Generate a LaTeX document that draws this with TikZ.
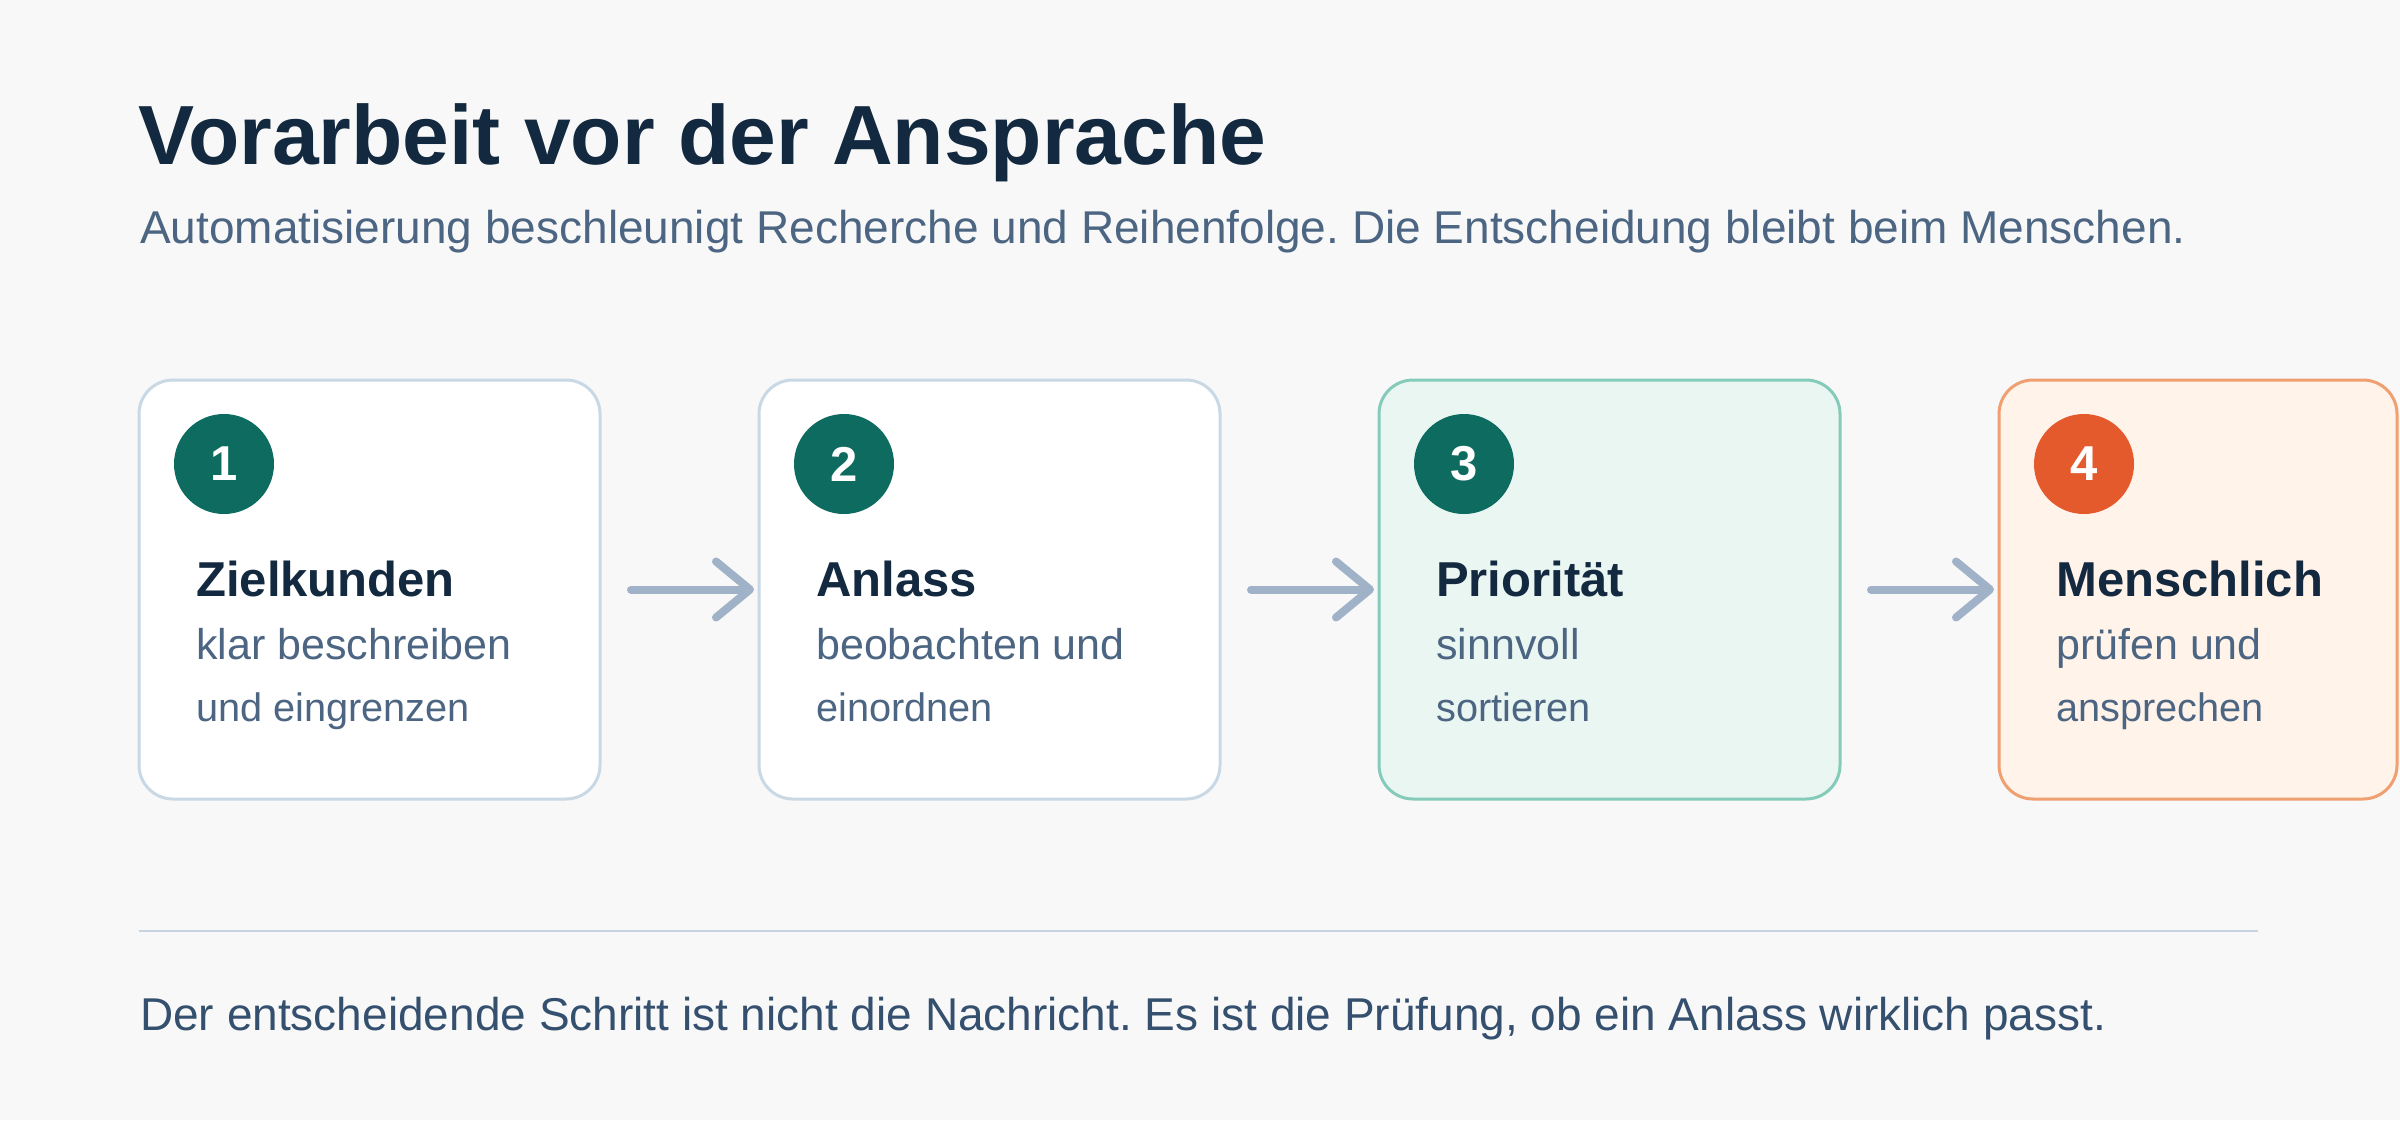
\documentclass[tikz,border=0pt]{standalone}
\usepackage{fontspec}
\setmainfont{Liberation Sans}
\frenchspacing
\usetikzlibrary{positioning,arrows.meta}
\definecolor{bg}{HTML}{F8F8F8}
\definecolor{ink}{HTML}{13293F}
\definecolor{muted}{HTML}{4B6582}
\definecolor{foot}{HTML}{34506E}
\definecolor{edge}{HTML}{C9D8E5}
\definecolor{stepteal}{HTML}{0E6B5F}
\definecolor{tealedge}{HTML}{85CBB9}
\definecolor{tealfill}{HTML}{EAF6F2}
\definecolor{steporange}{HTML}{E55A2D}
\definecolor{orangeedge}{HTML}{F0A070}
\definecolor{orangefill}{HTML}{FFF3EA}
\definecolor{arrowc}{HTML}{9FB2C8}
\definecolor{rule}{HTML}{C8D4E2}
\tikzset{
  stepbox/.style={rectangle, draw=edge, fill=white, line width=3pt, rounded corners=34pt,
    minimum width=461pt, minimum height=419pt, inner sep=0pt, outer sep=0pt, node distance=159pt},
  num/.style={circle, fill=stepteal, minimum size=100pt, inner sep=0pt, text=white,
    font=\fontsize{49}{49}\selectfont\bfseries},
  head/.style={anchor=base west, inner sep=0pt, text=ink, font=\fontsize{49}{49}\selectfont\bfseries},
  first/.style={anchor=base west, inner sep=0pt, text=muted, font=\fontsize{43}{43}\selectfont},
  second/.style={anchor=base west, inner sep=0pt, text=muted, font=\fontsize{39.7}{40}\selectfont},
  flow/.style={arrowc, line width=8pt, line cap=round, -{Straight Barb[round,length=34pt,width=56pt]}}
}
\begin{document}
\begin{tikzpicture}[x=1pt,y=-1pt]
  \useasboundingbox (0,0) rectangle (2400,1120);
  \fill[bg] (0,0) rectangle (2400,1120);

  % header
  \node[anchor=base west, inner sep=0pt, text=ink, font=\fontsize{84}{84}\selectfont\bfseries] (title) at (138,164) {Vorarbeit vor der Ansprache};
  \node[anchor=base west, inner sep=0pt, text=muted, font=\fontsize{46}{46}\selectfont] (sub) at (140,243) {Automatisierung beschleunigt Recherche und Reihenfolge. Die Entscheidung bleibt beim Menschen.};

  % steps
  \node[stepbox, anchor=north west] (B1) at (139,380) {};
  \node[stepbox] (B2) [right=of B1] {};
  \node[stepbox, draw=tealedge, fill=tealfill] (B3) [right=of B2] {};
  \node[stepbox, draw=orangeedge, fill=orangefill, minimum width=398pt] (B4) [right=of B3] {};

  \node[num] (N1) at ([shift={(85,84)}]B1.north west) {1};
  \node[num] (N2) at ([shift={(85,84)}]B2.north west) {2};
  \node[num] (N3) at ([shift={(85,84)}]B3.north west) {3};
  \node[num, fill=steporange] (N4) at ([shift={(85,84)}]B4.north west) {4};

  \node[head] (H1) at ([shift={(57,216)}]B1.north west) {Zielkunden};
  \node[first] at ([shift={(57,279)}]B1.north west) {klar beschreiben};
  \node[second] at ([shift={(57,341)}]B1.north west) {und eingrenzen};

  \node[head] (H2) at ([shift={(57,216)}]B2.north west) {Anlass};
  \node[first] at ([shift={(57,279)}]B2.north west) {beobachten und};
  \node[second] at ([shift={(57,341)}]B2.north west) {einordnen};

  \node[head] (H3) at ([shift={(57,216)}]B3.north west) {Priorität};
  \node[first] at ([shift={(57,279)}]B3.north west) {sinnvoll};
  \node[second] at ([shift={(57,341)}]B3.north west) {sortieren};

  \node[head] (H4) at ([shift={(57,216)}]B4.north west) {Menschlich};
  \node[first] at ([shift={(57,279)}]B4.north west) {prüfen und};
  \node[second] at ([shift={(57,341)}]B4.north west) {ansprechen};

  \draw[flow] ([xshift=31pt]B1.east) -- ([xshift=-5pt]B2.west);
  \draw[flow] ([xshift=31pt]B2.east) -- ([xshift=-5pt]B3.west);
  \draw[flow] ([xshift=31pt]B3.east) -- ([xshift=-5pt]B4.west);

  % footer
  \coordinate (r1) at (139,931);
  \coordinate (r2) at (2258,931);
  \draw[rule, line width=2pt] (r1) -- (r2);
  \node[anchor=base west, inner sep=0pt, text=foot, font=\fontsize{46}{46}\selectfont] (foot) at (140,1030) {Der entscheidende Schritt ist nicht die Nachricht. Es ist die Prüfung, ob ein Anlass wirklich passt.};
\end{tikzpicture}
\end{document}
